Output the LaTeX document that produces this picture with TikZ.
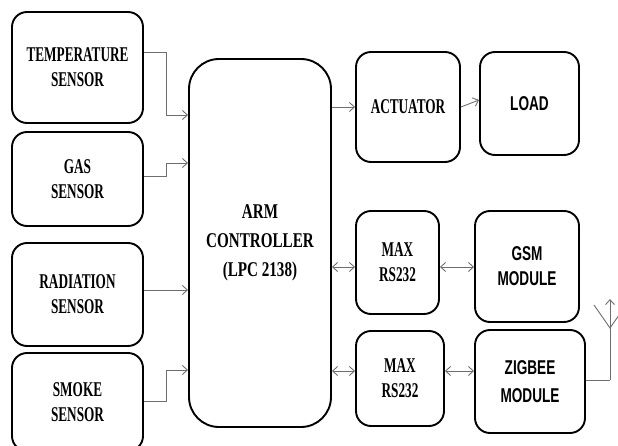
\documentclass[tikz,border=0pt]{standalone}
\usepackage{fontspec}
\setmainfont{Liberation Serif}
\newfontfamily\serifn{Liberation Serif}[FakeStretch=0.63]
\newfontfamily\serifw{Liberation Serif}[FakeStretch=0.72]
\newfontfamily\sansn{Liberation Sans}[FakeStretch=0.68]
\usetikzlibrary{arrows.meta}
\definecolor{conncol}{RGB}{110,110,110}
\tikzset{
  blk/.style={draw=black, line width=1.9pt, rounded corners=15pt, inner sep=0pt,
    align=center, font=\serifn\bfseries\fontsize{21}{25}\selectfont},
  sblk/.style={blk, font=\sansn\bfseries\fontsize{20}{25}\selectfont},
  conn/.style={draw=conncol, line width=0.9pt, -{Straight Barb[length=5pt,width=9pt]}},
  dconn/.style={draw=conncol, line width=0.9pt, {Straight Barb[length=5pt,width=9pt]}-{Straight Barb[length=5pt,width=9pt]}},
  plain/.style={draw=conncol, line width=0.9pt}
}
\begin{document}
\begin{tikzpicture}[x=1pt,y=-1pt]
\useasboundingbox (0,0) rectangle (618,446);
\clip (0,0) rectangle (618,446);
\node[blk, minimum width=131pt, minimum height=111pt] (temp) at (77.5,67.5) {TEMPERATURE\\SENSOR};
\node[blk, minimum width=131pt, minimum height=94pt] (gas) at (77.5,179) {GAS\\SENSOR};
\node[blk, minimum width=131pt, minimum height=103pt] (rad) at (77.5,294.5) {RADIATION\\SENSOR};
\node[blk, minimum width=131pt, minimum height=98pt] (smoke) at (77.5,402) {SMOKE\\SENSOR};
\node[blk, rounded corners=30pt, minimum width=142pt, minimum height=368pt,
  font=\serifw\bfseries\fontsize{21}{29}\selectfont] (arm) at (260,243) {ARM\\CONTROLLER\\(LPC 2138)};
\node[blk, minimum width=104pt, minimum height=110pt] (act) at (408,107) {ACTUATOR};
\node[sblk, minimum width=99pt, minimum height=103pt] (load) at (529.5,103.5) {LOAD};
\node[blk, minimum width=83pt, minimum height=103pt] (max1) at (397.5,262.5) {MAX\\RS232};
\node[sblk, minimum width=104pt, minimum height=111pt] (gsm) at (527,266.5) {GSM\\MODULE};
\node[blk, minimum width=88pt, minimum height=95pt] (max2) at (400,378.5) {MAX\\RS232};
\node[sblk, minimum width=110pt, minimum height=103pt, font=\sansn\bfseries\fontsize{20}{28}\selectfont] (zig) at (530,381.5) {ZIGBEE\\MODULE};
% sensors to controller
\draw[conn] ([yshift=15.5pt]temp.east) -- ++(22,0) |- ([yshift=128pt]arm.west);
\draw[conn] ([yshift=3pt]gas.east) -- ++(22,0) |- ([yshift=80pt]arm.west);
\draw[conn] ([yshift=4.5pt]rad.east) -- ([yshift=-47pt]arm.west);
\draw[conn] ([yshift=1pt]smoke.east) -- ++(22,0) |- ([yshift=-127pt]arm.west);
% controller to outputs
\draw[conn] ([yshift=136pt]arm.east) -- (act.west);
\draw[conn] (act.east) -- ([yshift=3.5pt]load.west);
\draw[dconn] ([yshift=-24pt]arm.east) -- ([yshift=-4.5pt]max1.west);
\draw[dconn] ([yshift=-4.5pt]max1.east) -- ([yshift=-0.5pt]gsm.west);
\draw[dconn] ([yshift=-128pt]arm.east) -- ([yshift=7.5pt]max2.west);
\draw[dconn] ([yshift=7.5pt]max2.east) -- ([yshift=10.5pt]zig.west);
% antenna
\coordinate (antbase) at (610,380);
\coordinate (anttop) at (610,299);
\coordinate (antv) at (610,328);
\coordinate (antl) at (594,305);
\coordinate (antr) at (626,305);
\draw[plain] ([yshift=1.5pt]zig.east) -- (antbase);
\draw[conn] (antbase) -- (anttop);
\draw[plain] (antl) -- (antv) -- (antr);
\end{tikzpicture}
\end{document}
